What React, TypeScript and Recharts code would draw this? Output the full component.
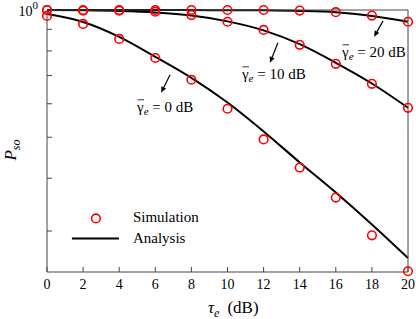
import React from 'react';
import { LineChart, Line, XAxis, YAxis, ReferenceDot } from 'recharts';

const FONT = '"Liberation Serif", "Times New Roman", serif';
const AXIS = '#444';
const RED = '#ff0000';

// tau_e (dB)
const tau = [0, 2, 4, 6, 8, 10, 12, 14, 16, 18, 20];

// gamma_e = 0 dB
const sim0 = [0.968, 0.927, 0.854, 0.77, 0.684, 0.584, 0.494, 0.424, 0.36, 0.293, 0.241];
const ana0 = [0.978, 0.937, 0.864, 0.775, 0.691, 0.604, 0.516, 0.436, 0.37, 0.311, 0.259];

// gamma_e = 10 dB
const sim10 = [1.0, 0.996, 0.996, 0.991, 0.973, 0.938, 0.897, 0.827, 0.746, 0.669, 0.587];
const ana10 = [1.0, 0.998, 0.994, 0.986, 0.97, 0.94, 0.895, 0.83, 0.75, 0.67, 0.587];

// gamma_e = 20 dB
const sim20 = [1.0, 1.0, 1.0, 1.0, 1.0, 1.0, 1.0, 0.997, 0.988, 0.97, 0.938];
const ana20 = [1.0, 1.0, 1.0, 1.0, 0.9995, 0.999, 0.998, 0.995, 0.988, 0.968, 0.938];

const xTicks = tau;
const yTicks = [0.3, 0.4, 0.5, 0.6, 0.7, 0.8, 0.9, 1];
const yDomain = [0.24, 1];

// annotation anchors (arrow head) in data units, label text
const notes = [
  { x: 6.32, y: 0.637, label: '0', tail: [9, -18], text: [-24, 19] },
  { x: 12.35, y: 0.75, label: '10', tail: [8, -20], text: [-28, 16] },
  { x: 18.12, y: 0.864, label: '20', tail: [9, -16], text: [-32, 20] },
];

// legend anchor (circle marker position) in data units
const legendAt = { x: 2.71, y: 0.3214 };

const data = tau.map((t, i) => ({
  tau: t,
  sim0: sim0[i],
  ana0: ana0[i],
  sim10: sim10[i],
  ana10: ana10[i],
  sim20: sim20[i],
  ana20: ana20[i],
}));

const XTick = (props: any) => {
  const { x, y, payload } = props;
  return (
    <g>
      <line x1={x} y1={y} x2={x} y2={y - 5} stroke={AXIS} />
      <text x={x} y={y + 17} textAnchor="middle" fontSize={14} fontFamily={FONT} fill="#000">
        {payload.value}
      </text>
    </g>
  );
};

const YTickLeft = (props: any) => {
  const { x, y, payload } = props;
  return (
    <g>
      <line x1={x} y1={y} x2={x + 5} y2={y} stroke={AXIS} />
      {payload.value === 1 && (
        <text x={x - 9} y={y + 6} textAnchor="end" fontSize={14} fontFamily={FONT} fill="#000">
          10<tspan dy={-7} fontSize={11}>0</tspan>
        </text>
      )}
    </g>
  );
};

const YTickRight = (props: any) => {
  const { x, y } = props;
  return <line x1={x} y1={y} x2={x - 5} y2={y} stroke={AXIS} />;
};

const YLabel = (props: any) => {
  const vb = props.viewBox;
  const cx = vb.x + 16;
  const cy = vb.y + vb.height / 2 + 9;
  return (
    <text
      x={cx}
      y={cy}
      transform={`rotate(-90 ${cx} ${cy})`}
      textAnchor="middle"
      fontSize={17}
      fontFamily={FONT}
      fontStyle="italic"
      fill="#000"
    >
      P<tspan fontSize={12} dy={4}>so</tspan>
    </text>
  );
};

const XLabel = (props: any) => {
  const vb = props.viewBox;
  return (
    <text x={vb.x + 161} y={vb.y + 41} fontSize={17} fontFamily={FONT} fill="#000">
      <tspan fontStyle="italic">τ</tspan>
      <tspan fontStyle="italic" fontSize={12} dy={4}>e</tspan>
      <tspan dy={-4} dx={8}>(dB)</tspan>
    </text>
  );
};

const Note = (props: any) => {
  const { cx, cy, note } = props;
  if (cx == null || cy == null) return null;
  const tx0 = cx + note.tail[0];
  const ty0 = cy + note.tail[1];
  const len = Math.hypot(cx - tx0, cy - ty0);
  const ux = (cx - tx0) / len;
  const uy = (cy - ty0) / len;
  const bx = cx - ux * 6;
  const by = cy - uy * 6;
  const px = -uy * 2.6;
  const py = ux * 2.6;
  const lx = cx + note.text[0];
  const ly = cy + note.text[1];
  return (
    <g>
      <line x1={tx0} y1={ty0} x2={bx} y2={by} stroke="#000" strokeWidth={1.2} />
      <polygon points={`${cx},${cy} ${bx + px},${by + py} ${bx - px},${by - py}`} fill="#000" />
      <line x1={lx + 0.5} y1={ly - 12} x2={lx + 7} y2={ly - 12} stroke="#000" strokeWidth={0.8} />
      <text x={lx} y={ly} fontSize={15} fontFamily={FONT} fill="#000">
        γ<tspan fontStyle="italic" fontSize={11} dy={3}>e</tspan>
        <tspan dy={-3}>{` = ${note.label} dB`}</tspan>
      </text>
    </g>
  );
};

const LegendMark = (props: any) => {
  const { cx, cy } = props;
  if (cx == null || cy == null) return null;
  return (
    <g>
      <circle cx={cx} cy={cy} r={4.3} fill="none" stroke={RED} strokeWidth={1.6} />
      <text x={cx + 37} y={cy + 4} fontSize={15} fontFamily={FONT} fill="#000">Simulation</text>
      <line x1={cx - 24} y1={cy + 20} x2={cx + 23} y2={cy + 20} stroke="#000" strokeWidth={2} />
      <text x={cx + 37} y={cy + 25} fontSize={15} fontFamily={FONT} fill="#000">Analysis</text>
    </g>
  );
};

const circleDot = { r: 4.3, stroke: RED, strokeWidth: 1.6, fill: 'none' };

export default function App() {
  return (
    <div style={{ position: 'absolute', left: 0, top: 0, width: 416, height: 319, background: '#fff' }}>
      <LineChart width={416} height={319} data={data} margin={{ top: 0, right: 0, bottom: 0, left: 0 }}>
        <XAxis
          dataKey="tau"
          type="number"
          domain={[0, 20]}
          ticks={xTicks}
          interval={0}
          height={47}
          tickSize={0}
          tickMargin={0}
          tickLine={false}
          tick={<XTick />}
          stroke={AXIS}
          label={<XLabel />}
        />
        <XAxis
          xAxisId="top"
          orientation="top"
          type="number"
          domain={[0, 20]}
          height={10}
          tick={false}
          tickLine={false}
          stroke={AXIS}
        />
        <YAxis
          scale="log"
          type="number"
          domain={yDomain}
          ticks={yTicks}
          interval={0}
          width={47}
          tickSize={0}
          tickMargin={0}
          tickLine={false}
          tick={<YTickLeft />}
          stroke={AXIS}
          label={<YLabel />}
        />
        <YAxis
          yAxisId="right"
          orientation="right"
          scale="log"
          type="number"
          domain={yDomain}
          ticks={yTicks}
          interval={0}
          width={8}
          tickSize={0}
          tickMargin={0}
          tickLine={false}
          tick={<YTickRight />}
          stroke={AXIS}
        />
        <Line dataKey="ana0" type="monotone" stroke="#000" strokeWidth={2} dot={false} isAnimationActive={false} />
        <Line dataKey="ana10" type="monotone" stroke="#000" strokeWidth={2} dot={false} isAnimationActive={false} />
        <Line dataKey="ana20" type="monotone" stroke="#000" strokeWidth={2} dot={false} isAnimationActive={false} />
        <Line dataKey="sim0" stroke="none" dot={circleDot} isAnimationActive={false} />
        <Line dataKey="sim10" stroke="none" dot={circleDot} isAnimationActive={false} />
        <Line dataKey="sim20" stroke="none" dot={circleDot} isAnimationActive={false} />
        {notes.map((n) => (
          <ReferenceDot
            key={n.label}
            x={n.x}
            y={n.y}
            r={0}
            shape={(p: any) => <Note cx={p.cx} cy={p.cy} note={n} />}
          />
        ))}
        <ReferenceDot
          x={legendAt.x}
          y={legendAt.y}
          r={0}
          shape={(p: any) => <LegendMark cx={p.cx} cy={p.cy} />}
        />
      </LineChart>
    </div>
  );
}
